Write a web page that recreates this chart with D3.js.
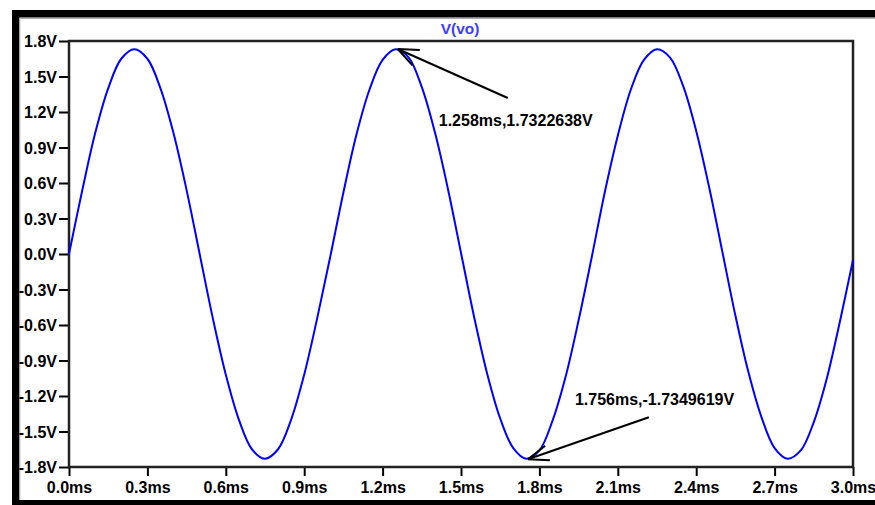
<!DOCTYPE html>
<html>
<head>
<meta charset="utf-8">
<script src="https://cdn.jsdelivr.net/npm/d3@7"></script>
<style>
  html, body { margin: 0; padding: 0; background: #fff; }
  svg { display: block; }
  text { font-family: "Liberation Sans", Arial, sans-serif; font-weight: bold; }
</style>
</head>
<body>
<div id="chart"></div>
<script>
const wave_color = "#0000ff";
const title_color = "#3c3cff";
const text_color = "#000";

const times = [
  0.00, 0.05, 0.10, 0.15, 0.20, 0.25, 0.30, 0.35, 0.40, 0.45,
  0.50, 0.55, 0.60, 0.65, 0.70, 0.75, 0.80, 0.85, 0.90, 0.95,
  1.00, 1.05, 1.10, 1.15, 1.20, 1.25, 1.30, 1.35, 1.40, 1.45,
  1.50, 1.55, 1.60, 1.65, 1.70, 1.75, 1.80, 1.85, 1.90, 1.95,
  2.00, 2.05, 2.10, 2.15, 2.20, 2.25, 2.30, 2.35, 2.40, 2.45,
  2.50, 2.55, 2.60, 2.65, 2.70, 2.75, 2.80, 2.85, 2.90, 2.95,
  3.00
];
const vo = [
  0.00, 0.53, 1.02, 1.40, 1.65, 1.73, 1.65, 1.40, 1.02, 0.54,
  0.00, -0.54, -1.02, -1.40, -1.65, -1.73, -1.65, -1.40, -1.02, -0.54,
  -0.02, 0.52, 1.01, 1.39, 1.64, 1.73, 1.66, 1.41, 1.03, 0.55,
  0.01, -0.53, -1.01, -1.39, -1.64, -1.73, -1.66, -1.41, -1.04, -0.56,
  -0.03, 0.52, 1.00, 1.39, 1.64, 1.73, 1.66, 1.42, 1.04, 0.56,
  0.02, -0.52, -1.00, -1.38, -1.64, -1.73, -1.66, -1.42, -1.05, -0.57,
  -0.05
];

const x_ticks = [0.0, 0.3, 0.6, 0.9, 1.2, 1.5, 1.8, 2.1, 2.4, 2.7, 3.0];
const y_ticks = [1.8, 1.5, 1.2, 0.9, 0.6, 0.3, 0.0, -0.3, -0.6, -0.9, -1.2, -1.5, -1.8];

// cursor readouts
const cursor_t = [1.258, 1.756];
const cursor_v = [1.7322638, -1.7349619];

const trace_name = "V(vo)";

const W = 875, H = 505;
const pLeft = 69, pRight = 853, pTop = 41, pBottom = 467;

const svg = d3.select("#chart").append("svg")
  .attr("width", W)
  .attr("height", H);

const x = d3.scaleLinear().domain([0, 3]).range([pLeft, pRight]);
const y = d3.scaleLinear().domain([-1.8, 1.8]).range([pBottom, pTop]);

// window frame
svg.append("rect").attr("x", 12).attr("y", 10).attr("width", W - 12).attr("height", 7.5).attr("fill", "#000");
svg.append("rect").attr("x", 12).attr("y", 10).attr("width", 7.5).attr("height", H - 10).attr("fill", "#000");
svg.append("rect").attr("x", 12).attr("y", 500).attr("width", W - 12).attr("height", 5).attr("fill", "#000");
svg.append("line").attr("x1", 19.5).attr("x2", W).attr("y1", 18.5).attr("y2", 18.5).attr("stroke", "#aaa");
svg.append("line").attr("x1", 20).attr("x2", 20).attr("y1", 18).attr("y2", 500).attr("stroke", "#ccc");

// title
svg.append("text")
  .text(trace_name)
  .attr("x", 460)
  .attr("y", 34)
  .attr("text-anchor", "middle")
  .attr("font-size", "15.5px")
  .style("fill", title_color);

// axes
const fmtV = d => d.toFixed(1) + "V";
const fmtT = d => d.toFixed(1) + "ms";

const yAxis = svg.append("g")
  .attr("transform", `translate(${pLeft},0)`)
  .call(d3.axisLeft(y).tickValues(y_ticks).tickFormat(fmtV).tickSize(10).tickSizeOuter(0).tickPadding(2));

const xAxis = svg.append("g")
  .attr("transform", `translate(0,${pBottom})`)
  .call(d3.axisBottom(x).tickValues(x_ticks).tickFormat(fmtT).tickSize(9).tickSizeOuter(0).tickPadding(6));

[yAxis, xAxis].forEach(g => {
  g.select(".domain").remove();
  g.selectAll(".tick line").attr("stroke", "#000").attr("stroke-width", 2);
  g.selectAll(".tick text")
    .attr("font-size", "16px")
    .attr("font-family", "'Liberation Sans', Arial, sans-serif")
    .attr("font-weight", "bold")
    .style("fill", text_color);
});
yAxis.selectAll(".tick text").attr("dy", "0.36em");

// plot frame
svg.append("rect")
  .attr("x", pLeft)
  .attr("y", pTop)
  .attr("width", pRight - pLeft)
  .attr("height", pBottom - pTop)
  .attr("fill", "none")
  .attr("stroke", "#222")
  .attr("stroke-width", 2.5);

// trace
const pts = times.map((t, i) => [t, vo[i]]);
svg.append("path")
  .datum(pts)
  .attr("fill", "none")
  .attr("stroke", wave_color)
  .attr("stroke-width", 2)
  .attr("d", d3.line().x(d => x(d[0])).y(d => y(d[1])).curve(d3.curveCatmullRom));

// cursor annotations: shaft offset and label offset from the cursor point
const arrows = [
  { dx: 110, dy: 49, lx: 41, ly: 77 },
  { dx: 121, dy: -42, lx: 47, ly: -54 }
];

cursor_t.forEach((t, i) => {
  const px = x(t), py = y(cursor_v[i]);
  const a = arrows[i];
  const ang = Math.atan2(a.dy, a.dx);
  const g = svg.append("g").attr("stroke", "#000").attr("stroke-width", 2);
  g.append("line").attr("x1", px).attr("y1", py).attr("x2", px + a.dx).attr("y2", py + a.dy);
  g.append("line").attr("x1", px).attr("y1", py).attr("x2", px + 22).attr("y2", py + 1);
  g.append("line").attr("x1", px).attr("y1", py)
    .attr("x2", px + 22 * Math.cos(2 * ang)).attr("y2", py + 22 * Math.sin(2 * ang));
  svg.append("text")
    .text(`${t.toFixed(3)}ms,${cursor_v[i]}V`)
    .attr("x", px + a.lx)
    .attr("y", py + a.ly)
    .attr("font-size", "16px")
    .style("fill", text_color);
});
</script>
</body>
</html>
